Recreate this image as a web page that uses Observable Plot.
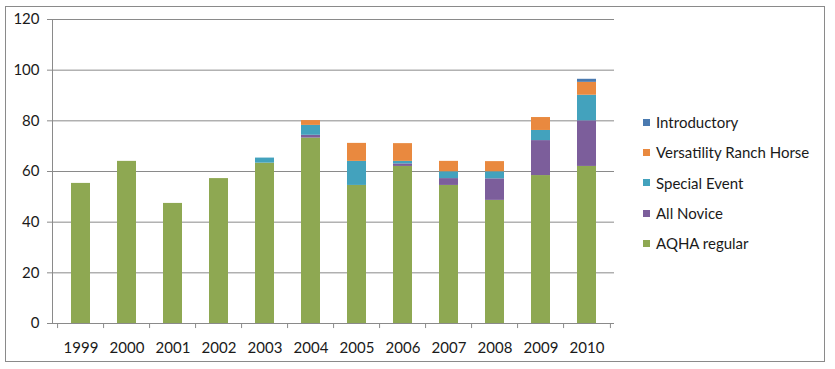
<!DOCTYPE html>
<html>
<head>
<meta charset="utf-8">
<script src="https://cdn.jsdelivr.net/npm/d3@7"></script>
<script src="https://cdn.jsdelivr.net/npm/@observablehq/plot@0.6"></script>
<style>
  html, body { margin: 0; padding: 0; background: #fff; }
  #wrap { position: relative; width: 835px; height: 369px; font-family: Lato, "Open Sans", sans-serif; }
  #frame { position: absolute; left: 5px; top: 6px; width: 820px; height: 356px; border: 1px solid #8a8a8a; box-sizing: border-box; pointer-events: none; }
  #legend { position: absolute; left: 643px; top: 107px; font-size: 15px; color: #1a1a1a; }
  .item { height: 30.3px; display: flex; align-items: center; margin: 0; }
  .item span.sw { display: inline-block; width: 7px; height: 7px; margin-right: 6px; }
  svg { position: absolute; left: 0; top: 0; }
</style>
</head>
<body>
<div id="wrap"></div>
<script>
const years = ["1999","2000","2001","2002","2003","2004","2005","2006","2007","2008","2009","2010"];
const seriesNames = ["AQHA regular","All Novice","Special Event","Versatility Ranch Horse","Introductory"];
const seriesColors = ["#8ea852","#7c5e9b","#43a2bd","#e9893f","#4a7ab0"];
const aqhaRegular   = [55.3, 64, 47.4, 57.2, 63.3, 73.2, 54.5, 62, 54.5, 48.6, 58.4, 62];
const allNovice     = [0, 0, 0, 0, 0, 1.1, 0, 1, 2.7, 8.5, 13.8, 18];
const specialEvent  = [0, 0, 0, 0, 2, 3.9, 9.5, 1, 2.7, 2.8, 4, 10.1];
const versatility   = [0, 0, 0, 0, 0, 1.9, 7.1, 7, 4.1, 4, 5.1, 5.1];
const introductory  = [0, 0, 0, 0, 0, 0, 0, 0, 0, 0, 0, 1.2];
const yTicks = [0, 20, 40, 60, 80, 100, 120];

const seriesValues = [aqhaRegular, allNovice, specialEvent, versatility, introductory];
const table = [];
seriesNames.forEach((s, si) => years.forEach((y, yi) => table.push({year: y, series: s, value: seriesValues[si][yi]})));

const W = 835, H = 369, ML = 52, MR = 221, MT = 19, MB = 46;
const step = (W - ML - MR) / years.length;

const chart = Plot.plot({
  width: W, height: H,
  marginLeft: ML, marginRight: MR, marginTop: MT, marginBottom: MB,
  style: {fontFamily: "Lato, 'Open Sans', sans-serif", fontSize: "15px", color: "#1a1a1a", background: "transparent"},
  x: {domain: years, paddingInner: 0.594, paddingOuter: 0.297, label: null},
  y: {domain: [0, 120], ticks: yTicks, label: null},
  color: {domain: seriesNames, range: seriesColors},
  marks: [
    Plot.ruleY(yTicks.filter(d => d > 0), {stroke: "#8a8a8a", strokeWidth: 1}),
    Plot.barY(table, {x: "year", y: "value", fill: "series", z: "series", order: seriesNames}),
    Plot.ruleY([0], {stroke: "#8a8a8a", strokeWidth: 1}),
    Plot.frame({anchor: "left", stroke: "#8a8a8a"}),
    Plot.axisY({ticks: yTicks, tickSize: 5, tickPadding: 8, stroke: "#8a8a8a", fill: "#1a1a1a", fontSize: 15, label: null}),
    Plot.axisX({tickSize: 0, tickPadding: 19, fill: "#1a1a1a", fontSize: 15, label: null}),
    Plot.ruleX(years, {x: d => d, dx: -step / 2, y1: 0, y2: -2, stroke: "#8a8a8a"}),
    Plot.ruleX(years.slice(-1), {x: d => d, dx: step / 2, y1: 0, y2: -2, stroke: "#8a8a8a"})
  ]
});

const wrap = document.getElementById("wrap");
wrap.appendChild(chart);
const frame = document.createElement("div");
frame.id = "frame";
wrap.appendChild(frame);
const legend = document.createElement("div");
legend.id = "legend";
seriesNames.slice().reverse().forEach((s) => {
  const i = seriesNames.indexOf(s);
  const item = document.createElement("div");
  item.className = "item";
  const sw = document.createElement("span");
  sw.className = "sw";
  sw.style.background = seriesColors[i];
  item.appendChild(sw);
  item.appendChild(document.createTextNode(s));
  legend.appendChild(item);
});
wrap.appendChild(legend);
</script>
</body>
</html>
